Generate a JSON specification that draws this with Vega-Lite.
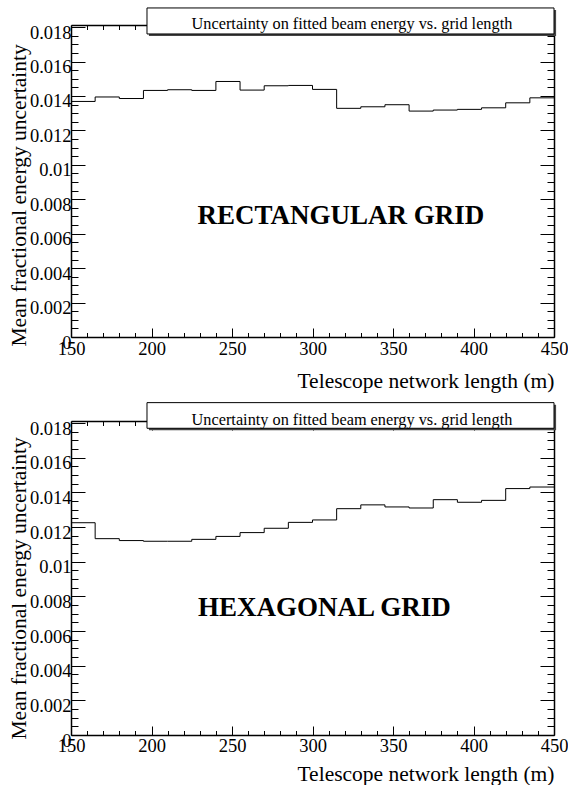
{
  "$schema": "https://vega.github.io/schema/vega-lite/v6.json",
  "background": "white",
  "padding": {"left": 8, "top": 7, "right": 0, "bottom": 0},
  "spacing": 84,
  "bounds": "flush",
  "config": {
    "view": {"stroke": null},
    "axis": {
      "grid": false,
      "domainColor": "black",
      "domainWidth": 1.5,
      "tickColor": "black",
      "tickWidth": 1,
      "labelColor": "black",
      "labelFont": "Liberation Serif",
      "labelFontSize": 18.5,
      "titleColor": "black",
      "titleFont": "Liberation Serif",
      "titleFontSize": 21.5,
      "titleFontWeight": "normal",
      "zindex": 0
    }
  },
  "datasets": {
    "rect": [
      {"len": 150, "unc": 0.01368},
      {"len": 165, "unc": 0.01394},
      {"len": 180, "unc": 0.01385},
      {"len": 195, "unc": 0.01432},
      {"len": 210, "unc": 0.01436},
      {"len": 225, "unc": 0.01432},
      {"len": 240, "unc": 0.01484},
      {"len": 255, "unc": 0.01434},
      {"len": 270, "unc": 0.01459},
      {"len": 285, "unc": 0.01461},
      {"len": 300, "unc": 0.01438},
      {"len": 315, "unc": 0.01328},
      {"len": 330, "unc": 0.01337},
      {"len": 345, "unc": 0.01349},
      {"len": 360, "unc": 0.01312},
      {"len": 375, "unc": 0.01318},
      {"len": 390, "unc": 0.01322},
      {"len": 405, "unc": 0.01331},
      {"len": 420, "unc": 0.0136},
      {"len": 435, "unc": 0.01389},
      {"len": 450, "unc": 0.01389}
    ],
    "hex": [
      {"len": 150, "unc": 0.01225},
      {"len": 165, "unc": 0.01133},
      {"len": 180, "unc": 0.01122},
      {"len": 195, "unc": 0.01118},
      {"len": 210, "unc": 0.01118},
      {"len": 225, "unc": 0.01129},
      {"len": 240, "unc": 0.01146},
      {"len": 255, "unc": 0.01168},
      {"len": 270, "unc": 0.01193},
      {"len": 285, "unc": 0.01227},
      {"len": 300, "unc": 0.01241},
      {"len": 315, "unc": 0.01306},
      {"len": 330, "unc": 0.01328},
      {"len": 345, "unc": 0.01316},
      {"len": 360, "unc": 0.0131},
      {"len": 375, "unc": 0.01358},
      {"len": 390, "unc": 0.01343},
      {"len": 405, "unc": 0.01354},
      {"len": 420, "unc": 0.01422},
      {"len": 435, "unc": 0.01431},
      {"len": 450, "unc": 0.01431}
    ]
  },
  "vconcat": [
    {
      "width": 483,
      "height": 312,
      "resolve": {"axis": {"x": "independent", "y": "independent"}},
      "layer": [
        {
          "data": {"name": "rect"},
          "mark": {"type": "line", "interpolate": "step-after", "color": "black", "strokeWidth": 1},
          "encoding": {
            "x": {"field": "len", "type": "quantitative",
              "scale": {"domain": [150, 450], "nice": false, "zero": false},
              "axis": {
                "orient": "bottom",
                "values": [150,160,170,180,190,200,210,220,230,240,250,260,270,280,290,300,310,320,330,340,350,360,370,380,390,400,410,420,430,440,450],
                "tickSize": {"condition": {"test": "datum.value % 50 === 0", "value": -9}, "value": -4.5},
                "labelExpr": "datum.value % 50 === 0 ? format(datum.value, 'd') : ''",
                "labelFont": "Liberation Serif", "labelFontSize": 18.5,
                "labelFlush": false, "labelOverlap": false,
                "labelBaseline": "top", "labelPadding": 11,
                "title": "Telescope network length (m)",
                "titleFont": "Liberation Serif",
                "titleX": 483, "titleY": 50, "titleAlign": "right", "titleBaseline": "alphabetic"
              }},
            "y": {"field": "unc", "type": "quantitative",
              "scale": {"domain": [0, 0.01812], "nice": false, "zero": false},
              "axis": {
                "orient": "left",
                "values": [0,0.0005,0.001,0.0015,0.002,0.0025,0.003,0.0035,0.004,0.0045,0.005,0.0055,0.006,0.0065,0.007,0.0075,0.008,0.0085,0.009,0.0095,0.01,0.0105,0.011,0.0115,0.012,0.0125,0.013,0.0135,0.014,0.0145,0.015,0.0155,0.016,0.0165,0.017,0.0175,0.018],
                "tickSize": {"condition": {"test": "round(datum.value * 10000) % 20 === 0", "value": -14}, "value": -7},
                "labelExpr": "round(datum.value * 10000) % 20 === 0 ? format(datum.value, '~g') : ''",
                "labelFont": "Liberation Serif", "labelFontSize": 18.5,
                "labelFlush": false, "labelOverlap": false,
                "labelBaseline": "middle", "labelPadding": 14, "labelOffset": 5,
                "title": "Mean fractional energy uncertainty",
                "titleFont": "Liberation Serif",
                "titleX": -46, "titleY": 321, "titleAlign": "left", "titleBaseline": "alphabetic", "titleAngle": -90
              }}
          }
        },
        {
          "data": {"name": "rect"},
          "mark": {"type": "line", "interpolate": "step-after", "opacity": 0},
          "encoding": {
            "x": {"field": "len", "type": "quantitative",
              "scale": {"domain": [150, 450], "nice": false, "zero": false},
              "axis": {
                "orient": "top",
                "values": [150,160,170,180,190,200,210,220,230,240,250,260,270,280,290,300,310,320,330,340,350,360,370,380,390,400,410,420,430,440,450],
                "tickSize": {"condition": {"test": "datum.value % 50 === 0", "value": -9}, "value": -4.5},
                "labels": false, "title": null
              }},
            "y": {"field": "unc", "type": "quantitative",
              "scale": {"domain": [0, 0.01812], "nice": false, "zero": false},
              "axis": {
                "orient": "right",
                "values": [0,0.0005,0.001,0.0015,0.002,0.0025,0.003,0.0035,0.004,0.0045,0.005,0.0055,0.006,0.0065,0.007,0.0075,0.008,0.0085,0.009,0.0095,0.01,0.0105,0.011,0.0115,0.012,0.0125,0.013,0.0135,0.014,0.0145,0.015,0.0155,0.016,0.0165,0.017,0.0175,0.018],
                "tickSize": {"condition": {"test": "round(datum.value * 10000) % 20 === 0", "value": -14}, "value": -7},
                "labels": false, "title": null
              }}
          }
        },
        {
          "data": {"values": [{}]},
          "mark": {"type": "rect", "fill": "#444444", "clip": false},
          "encoding": {
            "x": {"datum": 198.4, "type": "quantitative", "scale": {"domain": [150, 450], "nice": false, "zero": false}, "axis": null},
            "x2": {"datum": 451.3},
            "y": {"datum": 0.01899, "type": "quantitative", "scale": {"domain": [0, 0.01812], "nice": false, "zero": false}, "axis": null},
            "y2": {"datum": 0.01748}
          }
        },
        {
          "data": {"values": [{}]},
          "mark": {"type": "rect", "fill": "white", "stroke": "black", "strokeWidth": 1, "clip": false},
          "encoding": {
            "x": {"datum": 197.2, "type": "quantitative", "scale": {"domain": [150, 450], "nice": false, "zero": false}, "axis": null},
            "x2": {"datum": 450},
            "y": {"datum": 0.01911, "type": "quantitative", "scale": {"domain": [0, 0.01812], "nice": false, "zero": false}, "axis": null},
            "y2": {"datum": 0.0176}
          }
        },
        {
          "data": {"values": [{}]},
          "mark": {"type": "text", "font": "Liberation Serif", "fontSize": 16.3, "align": "center", "baseline": "alphabetic", "color": "black"},
          "encoding": {
            "x": {"datum": 324.5, "type": "quantitative", "scale": {"domain": [150, 450], "nice": false, "zero": false}, "axis": null},
            "y": {"datum": 0.01788, "type": "quantitative", "scale": {"domain": [0, 0.01812], "nice": false, "zero": false}, "axis": null},
            "text": {"value": "Uncertainty on fitted beam energy vs. grid length"}
          }
        },
        {
          "data": {"values": [{}]},
          "mark": {"type": "text", "font": "Liberation Serif", "fontSize": 27, "fontWeight": "bold", "align": "center", "baseline": "alphabetic", "color": "black"},
          "encoding": {
            "x": {"datum": 317.6, "type": "quantitative", "scale": {"domain": [150, 450], "nice": false, "zero": false}, "axis": null},
            "y": {"datum": 0.00654, "type": "quantitative", "scale": {"domain": [0, 0.01812], "nice": false, "zero": false}, "axis": null},
            "text": {"value": "RECTANGULAR GRID"}
          }
        }
      ]
    },
    {
      "width": 483,
      "height": 314,
      "resolve": {"axis": {"x": "independent", "y": "independent"}},
      "layer": [
        {
          "data": {"name": "hex"},
          "mark": {"type": "line", "interpolate": "step-after", "color": "black", "strokeWidth": 1},
          "encoding": {
            "x": {"field": "len", "type": "quantitative",
              "scale": {"domain": [150, 450], "nice": false, "zero": false},
              "axis": {
                "orient": "bottom",
                "values": [150,160,170,180,190,200,210,220,230,240,250,260,270,280,290,300,310,320,330,340,350,360,370,380,390,400,410,420,430,440,450],
                "tickSize": {"condition": {"test": "datum.value % 50 === 0", "value": -9}, "value": -4.5},
                "labelExpr": "datum.value % 50 === 0 ? format(datum.value, 'd') : ''",
                "labelFont": "Liberation Serif", "labelFontSize": 18.5,
                "labelFlush": false, "labelOverlap": false,
                "labelBaseline": "top", "labelPadding": 10,
                "title": "Telescope network length (m)",
                "titleFont": "Liberation Serif",
                "titleX": 483, "titleY": 45, "titleAlign": "right", "titleBaseline": "alphabetic"
              }},
            "y": {"field": "unc", "type": "quantitative",
              "scale": {"domain": [0, 0.01812], "nice": false, "zero": false},
              "axis": {
                "orient": "left",
                "values": [0,0.0005,0.001,0.0015,0.002,0.0025,0.003,0.0035,0.004,0.0045,0.005,0.0055,0.006,0.0065,0.007,0.0075,0.008,0.0085,0.009,0.0095,0.01,0.0105,0.011,0.0115,0.012,0.0125,0.013,0.0135,0.014,0.0145,0.015,0.0155,0.016,0.0165,0.017,0.0175,0.018],
                "tickSize": {"condition": {"test": "round(datum.value * 10000) % 20 === 0", "value": -14}, "value": -7},
                "labelExpr": "round(datum.value * 10000) % 20 === 0 ? format(datum.value, '~g') : ''",
                "labelFont": "Liberation Serif", "labelFontSize": 18.5,
                "labelFlush": false, "labelOverlap": false,
                "labelBaseline": "middle", "labelPadding": 14, "labelOffset": 5,
                "title": "Mean fractional energy uncertainty",
                "titleFont": "Liberation Serif",
                "titleX": -46, "titleY": 318, "titleAlign": "left", "titleBaseline": "alphabetic", "titleAngle": -90
              }}
          }
        },
        {
          "data": {"name": "hex"},
          "mark": {"type": "line", "interpolate": "step-after", "opacity": 0},
          "encoding": {
            "x": {"field": "len", "type": "quantitative",
              "scale": {"domain": [150, 450], "nice": false, "zero": false},
              "axis": {
                "orient": "top",
                "values": [150,160,170,180,190,200,210,220,230,240,250,260,270,280,290,300,310,320,330,340,350,360,370,380,390,400,410,420,430,440,450],
                "tickSize": {"condition": {"test": "datum.value % 50 === 0", "value": -9}, "value": -4.5},
                "labels": false, "title": null
              }},
            "y": {"field": "unc", "type": "quantitative",
              "scale": {"domain": [0, 0.01812], "nice": false, "zero": false},
              "axis": {
                "orient": "right",
                "values": [0,0.0005,0.001,0.0015,0.002,0.0025,0.003,0.0035,0.004,0.0045,0.005,0.0055,0.006,0.0065,0.007,0.0075,0.008,0.0085,0.009,0.0095,0.01,0.0105,0.011,0.0115,0.012,0.0125,0.013,0.0135,0.014,0.0145,0.015,0.0155,0.016,0.0165,0.017,0.0175,0.018],
                "tickSize": {"condition": {"test": "round(datum.value * 10000) % 20 === 0", "value": -14}, "value": -7},
                "labels": false, "title": null
              }}
          }
        },
        {
          "data": {"values": [{}]},
          "mark": {"type": "rect", "fill": "#444444", "clip": false},
          "encoding": {
            "x": {"datum": 198.4, "type": "quantitative", "scale": {"domain": [150, 450], "nice": false, "zero": false}, "axis": null},
            "x2": {"datum": 451.3},
            "y": {"datum": 0.01906, "type": "quantitative", "scale": {"domain": [0, 0.01812], "nice": false, "zero": false}, "axis": null},
            "y2": {"datum": 0.01758}
          }
        },
        {
          "data": {"values": [{}]},
          "mark": {"type": "rect", "fill": "white", "stroke": "black", "strokeWidth": 1, "clip": false},
          "encoding": {
            "x": {"datum": 197.2, "type": "quantitative", "scale": {"domain": [150, 450], "nice": false, "zero": false}, "axis": null},
            "x2": {"datum": 450},
            "y": {"datum": 0.01918, "type": "quantitative", "scale": {"domain": [0, 0.01812], "nice": false, "zero": false}, "axis": null},
            "y2": {"datum": 0.0177}
          }
        },
        {
          "data": {"values": [{}]},
          "mark": {"type": "text", "font": "Liberation Serif", "fontSize": 16.3, "align": "center", "baseline": "alphabetic", "color": "black"},
          "encoding": {
            "x": {"datum": 324.5, "type": "quantitative", "scale": {"domain": [150, 450], "nice": false, "zero": false}, "axis": null},
            "y": {"datum": 0.01787, "type": "quantitative", "scale": {"domain": [0, 0.01812], "nice": false, "zero": false}, "axis": null},
            "text": {"value": "Uncertainty on fitted beam energy vs. grid length"}
          }
        },
        {
          "data": {"values": [{}]},
          "mark": {"type": "text", "font": "Liberation Serif", "fontSize": 27, "fontWeight": "bold", "align": "center", "baseline": "alphabetic", "color": "black"},
          "encoding": {
            "x": {"datum": 307.4, "type": "quantitative", "scale": {"domain": [150, 450], "nice": false, "zero": false}, "axis": null},
            "y": {"datum": 0.00689, "type": "quantitative", "scale": {"domain": [0, 0.01812], "nice": false, "zero": false}, "axis": null},
            "text": {"value": "HEXAGONAL GRID"}
          }
        }
      ]
    }
  ]
}
